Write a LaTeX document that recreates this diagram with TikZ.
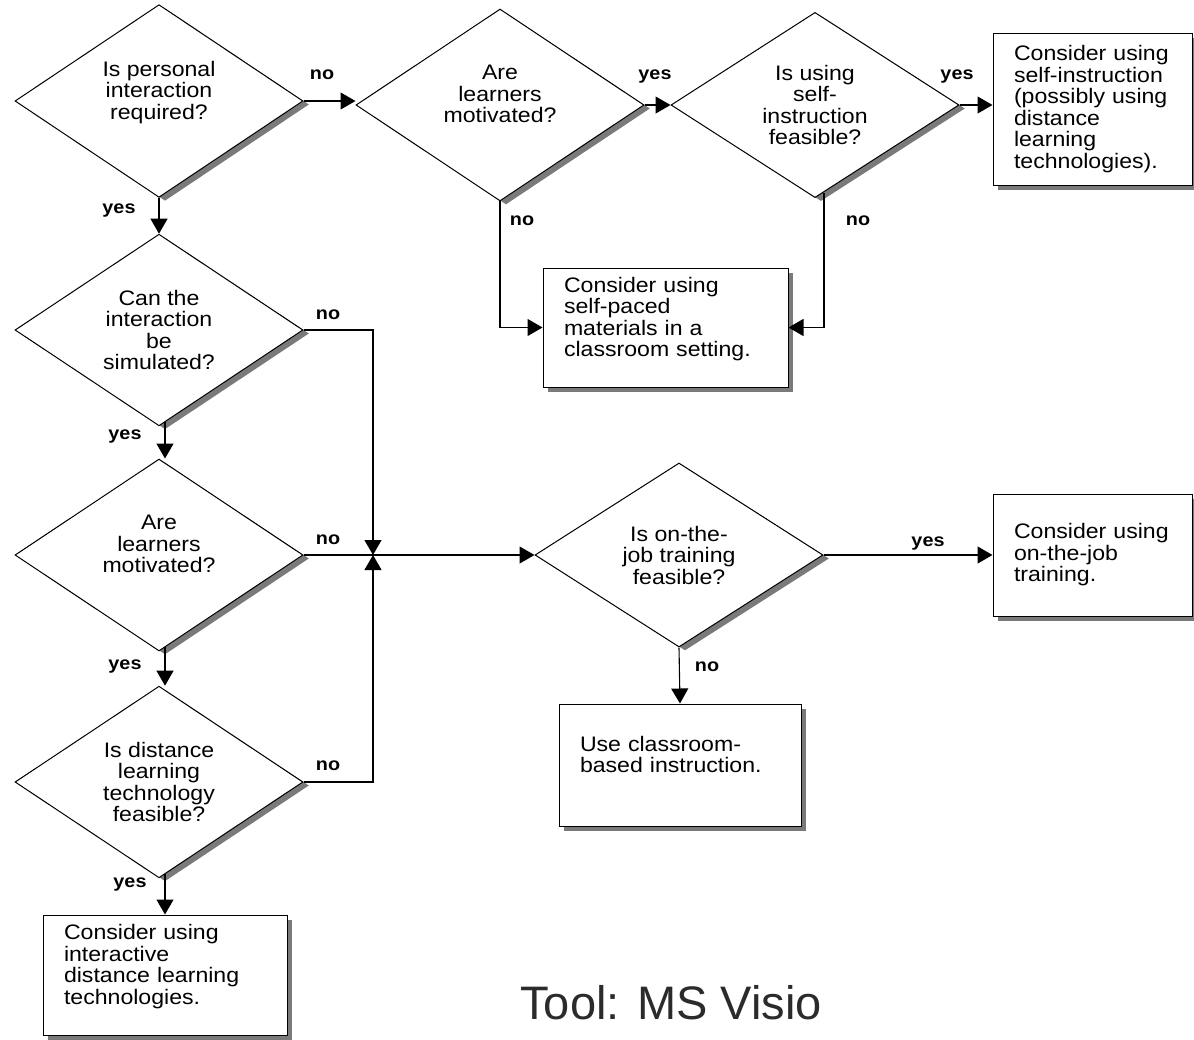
\documentclass[tikz,border=0pt]{standalone}
\usepackage{fontspec}
\setmainfont{Liberation Sans}[FakeStretch=1.1]
\newfontfamily\toolfont{Liberation Sans}
\usetikzlibrary{shapes.geometric,shadows,arrows.meta}
\definecolor{shade}{HTML}{7A7A7A}
\definecolor{tooltext}{HTML}{2B2B2B}

\begin{document}
\begin{tikzpicture}[x=1pt,y=1pt]
            \tikzstyle{every node}+=[inner sep=0pt]
            \tikzstyle{ask}=[diamond, draw=black, line width=1pt, fill=white,
              minimum width=288pt, minimum height=184pt, align=center,
              font=\fontsize{21}{21.5}\selectfont,
              drop shadow={shadow xshift=6pt, shadow yshift=-3.5pt, fill=shade, opacity=1}]
            \tikzstyle{act}=[rectangle, draw=black, line width=1pt, fill=white,
              inner xsep=21pt, align=left, font=\fontsize{21}{21.5}\selectfont,
              drop shadow={shadow xshift=5pt, shadow yshift=-4.5pt, fill=shade, opacity=1}]
            \tikzstyle{flow}=[line width=1.1pt, -{Triangle[length=15pt,width=17pt]}]
            \tikzstyle{lbl}=[anchor=mid, font=\bfseries\fontsize{18}{18}\selectfont]
            \useasboundingbox (0,0) rectangle (1194,-1039);
            % questions
            \draw (159,-101) node[ask] (d1) {Is personal\\interaction\\required?\\\mbox{}};
            \draw (500,-105) node[ask] (d2) {Are\\learners\\motivated?\\\mbox{}};
            \draw (815,-105) node[ask] (d3) {Is using\\self-\\instruction\\feasible?};
            \draw (159,-330) node[ask] (d5) {Can the\\interaction\\be\\simulated?};
            \draw (159,-555) node[ask] (d6) {Are\\learners\\motivated?\\\mbox{}};
            \draw (159,-782) node[ask] (d7) {Is distance\\learning\\technology\\feasible?};
            \draw (679,-555) node[ask] (d4) {Is on-the-\\job training\\feasible?};
            % outcomes
            \draw (1092.5,-109) node[act, text width=157pt, minimum height=152pt] (b1)
              {Consider using\\self-instruction\\(possibly using\\distance\\learning\\technologies).};
            \draw (665.5,-327.5) node[act, text width=203pt, minimum height=119pt] (b2)
              {Consider using\\self-paced\\materials in a\\classroom setting.\\\mbox{}};
            \draw (680,-765) node[act, text width=200pt, minimum height=122pt] (b3)
              {Use classroom-\\based instruction.\\\mbox{}};
            \draw (1092.5,-555) node[act, text width=157pt, minimum height=122pt] (b4)
              {Consider using\\on-the-job\\training.};
            \draw (165,-975) node[act, text width=202pt, minimum height=120pt] (b5)
              {Consider using\\interactive\\distance learning\\technologies.\\\mbox{}};
            \coordinate (jn) at (373,-555);
            % connectors
            \draw [flow] (d1.east) -- (d1.east -| d2.west);
            \draw (322,-77) node[lbl] (l1) {no};
            \draw [flow] (d2.east) -- (d3.west);
            \draw (655,-77) node[lbl] (l2) {yes};
            \draw [flow] (d3.east) -- (d3.east -| b1.west);
            \draw (957,-77) node[lbl] (l3) {yes};
            \draw [flow] (d2.south) |- (b2.west);
            \draw (522,-223) node[lbl] (l4) {no};
            \draw [flow] ([shift={(9pt,5pt)}]d3.south) |- (b2.east);
            \draw (858,-223) node[lbl] (l5) {no};
            \draw [flow] (d1.south) -- (d5.north);
            \draw (119,-211) node[lbl] (l6) {yes};
            \draw [flow] ([shift={(6pt,4pt)}]d5.south) -- ([xshift=6pt]d6.north);
            \draw (125,-437) node[lbl] (l7) {yes};
            \draw [flow] ([shift={(6pt,4pt)}]d6.south) -- ([xshift=6pt]d7.north);
            \draw (125,-667) node[lbl] (l8) {yes};
            \draw [flow] ([shift={(6pt,4pt)}]d7.south) -- (b5.north);
            \draw (130,-885) node[lbl] (l9) {yes};
            \draw [flow] (d5.east) -| (jn);
            \draw (328,-317) node[lbl] (l10) {no};
            \draw [flow] (d7.east) -| (jn);
            \draw (328,-768) node[lbl] (l11) {no};
            \draw [flow] (d6.east) -- (d4.west);
            \draw (328,-542) node[lbl] (l12) {no};
            \draw [flow] (d4.east) -- (b4.west);
            \draw (928,-544) node[lbl] (l13) {yes};
            \draw [flow] (d4.south) -- (b3.north);
            \draw (707,-669) node[lbl] (l14) {no};
            % caption
            \draw (671,-1019) node[anchor=base, text=tooltext,
              font=\toolfont\fontsize{47}{47}\selectfont] (tool) {Tool: MS Visio};
\end{tikzpicture}
\end{document}
